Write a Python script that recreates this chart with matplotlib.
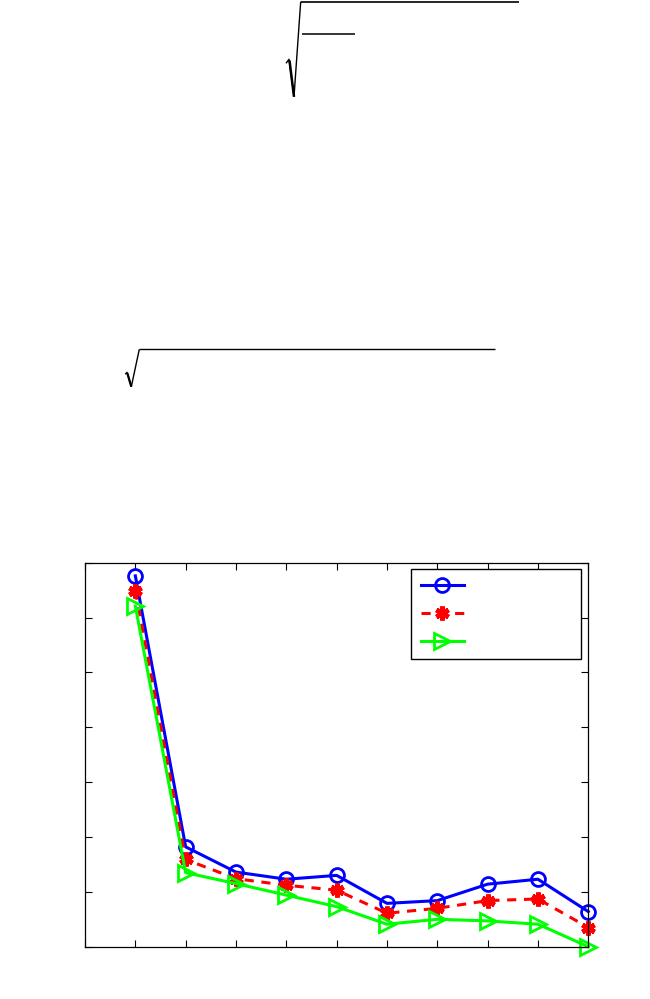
import matplotlib
matplotlib.use("Agg")
import matplotlib.pyplot as plt
from matplotlib.lines import Line2D

# ---- data ----
x = [1, 2, 3, 4, 5, 6, 7, 8, 9, 10]
series_a = [6.76, 1.82, 1.36, 1.23, 1.30, 0.79, 0.84, 1.14, 1.23, 0.64]
series_b = [6.49, 1.59, 1.24, 1.12, 1.03, 0.61, 0.70, 0.84, 0.87, 0.35]
series_c = [6.21, 1.35, 1.15, 0.94, 0.73, 0.41, 0.50, 0.47, 0.41, 0.00]
labels = [" ", " ", " "]
xticks = list(range(0, 11))
yticks = list(range(0, 8))

W, H = 650, 999
fig = plt.figure(figsize=(W / 100, H / 100), dpi=100)

# axes placement (pixels -> figure fraction)
L, R, T, B = 85.0, 588.3, 562.7, 946.7
ax = fig.add_axes([L / W, 1 - B / H, (R - L) / W, (B - T) / H])

h1, = ax.plot(x, series_a, color="#0000FF", lw=2.2, marker="o", ms=10,
              mfc="none", mec="#0000FF", mew=2, clip_on=False)
h2, = ax.plot(x, series_b, color="#FF0000", lw=2.2, ls=(0, (3, 2.5)), marker=(6, 2, 0),
              ms=10, mec="#FF0000", mew=3.4, clip_on=False)
h3, = ax.plot(x, series_c, color="#00FF00", lw=2.2, marker=">", ms=12,
              mfc="none", mec="#00FF00", mew=2, clip_on=False)

ax.set_xlim(0, 10)
ax.set_ylim(0, 7)
ax.set_xticks(xticks)
ax.set_yticks(yticks)
ax.tick_params(direction="in", length=5, width=0.8, top=True, right=True,
               labelbottom=False, labelleft=False)
for s in ax.spines.values():
    s.set_linewidth(0.9)

leg = ax.legend([h1, h2, h3], labels, loc="upper left",
                bbox_to_anchor=((410.7 - L) / (R - L), (B - 569.3) / (B - T),
                                170.0 / (R - L), 0),
                mode="expand", borderaxespad=0, fontsize=10,
                handlelength=3.1, labelspacing=1.0, borderpad=0.72,
                fancybox=False, framealpha=1, edgecolor="black")
leg.get_frame().set_linewidth(1.0)

# radical-sign decorations at the top of the page (pixel coordinates)
def seg(pts, lw):
    xs = [p[0] / W for p in pts]
    ys = [1 - p[1] / H for p in pts]
    fig.add_artist(Line2D(xs, ys, transform=fig.transFigure, color="black",
                          lw=lw, solid_capstyle="butt"))

# first radical
seg([(286, 63.3), (289, 59.3), (294, 96.7)], 1.0)
seg([(289.5, 60.5), (294, 96.7)], 1.8)
seg([(294, 96.7), (300.7, 1.7)], 1.0)
seg([(300.7, 1.7), (519.3, 1.7)], 1.2)
seg([(301.7, 34.3), (355, 34.3)], 1.1)

# second radical
seg([(125.3, 374.3), (127, 372.3), (131.3, 386.7)], 1.0)
seg([(127.3, 373), (131.3, 386.7)], 1.6)
seg([(131.3, 386.7), (139.3, 349.3)], 1.0)
seg([(139.3, 349.3), (495, 349.3)], 1.0)

fig.savefig("out.png", dpi=100)
